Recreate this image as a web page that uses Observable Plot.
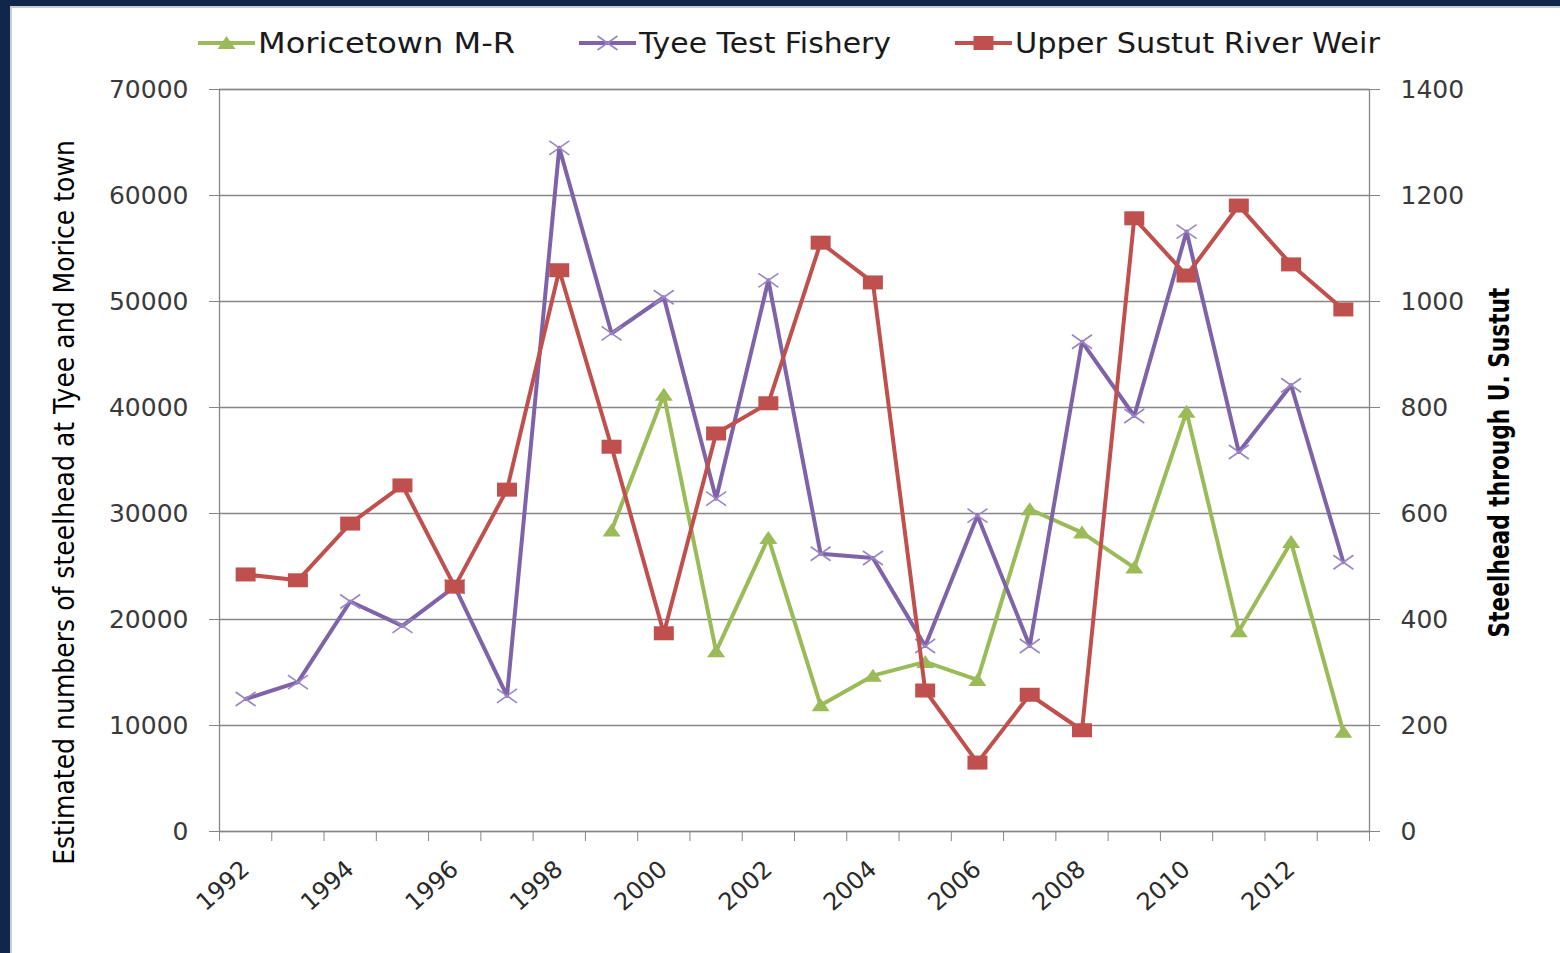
<!DOCTYPE html>
<html>
<head>
<meta charset="utf-8">
<script src="https://cdn.jsdelivr.net/npm/d3@7"></script>
<script src="https://cdn.jsdelivr.net/npm/@observablehq/plot@0.6"></script>
<style>
  html, body { margin: 0; padding: 0; background: #10264a; overflow: hidden; width: 1560px; height: 953px; }
  #box { position: absolute; left: 10px; top: 6px; width: 1548px; height: 945px; background: #fff;
         border-left: 2px solid #c9ccd2; border-top: 2px solid #c9ccd2; font-family: "DejaVu Sans", sans-serif; }
  #legend { height: 70px; display: flex; justify-content: center; align-items: center; gap: 64px; padding-left: 6px; box-sizing: border-box; }
  .item { display: flex; align-items: center; gap: 3px; font-size: 28px; color: #1a1a1a; white-space: nowrap; }
  .item svg { display: block; }
  .lbl { display: inline-block; }
  .lbl > span { display: inline-block; transform-origin: 0 50%; }
  #chart svg { display: block; }
</style>
</head>
<body>
<div id="box">
  <div id="legend"></div>
  <div id="chart"></div>
</div>
<script>
// ---- data ----
const years = [1992, 1993, 1994, 1995, 1996, 1997, 1998, 1999, 2000, 2001, 2002,
               2003, 2004, 2005, 2006, 2007, 2008, 2009, 2010, 2011, 2012, 2013];
const moricetown = [null, null, null, null, null, null, null,
                    28400, 41200, 17000, 27700, 11900, 14700, 16000, 14300,
                    30400, 28200, 24900, 39600, 18900, 27300, 9400];
const tyee = [12500, 14100, 21700, 19400, 23100, 12800, 64500, 47000, 50400, 31400, 52000,
              26200, 25800, 17500, 29800, 17500, 46200, 39200, 56600, 35800, 42100, 25400];
const sustut = [485, 474, 581, 653, 462, 645, 1059, 726, 374, 751, 808,
                1111, 1036, 266, 130, 258, 191, 1157, 1049, 1181, 1070, 985];
const leftTicks = [0, 10000, 20000, 30000, 40000, 50000, 60000, 70000];
const rightTicks = [0, 200, 400, 600, 800, 1000, 1200, 1400];
const yearLabels = [1992, 1994, 1996, 1998, 2000, 2002, 2004, 2006, 2008, 2010, 2012];
const seriesNames = ["Moricetown M-R", "Tyee Test Fishery", "Upper Sustut River Weir"];
const leftTitle = "Estimated numbers of steelhead at Tyee and Morice town";
const rightTitle = "Steelhead through U. Sustut";

// ---- styling ----
const GREEN = "#9bbb59", PURPLE = "#7f63a8", PURPLE_X = "#9a86c4", RED = "#c0504d", GRID = "#868686";
const SCALE = leftTicks[leftTicks.length - 1] / rightTicks[rightTicks.length - 1];
const LEFT_TITLE_LEN = 725, RIGHT_TITLE_LEN = 350;
const LEGEND_TEXT_W = [257, 252, 365];

const triSym = { draw(ctx) { ctx.moveTo(0, -7); ctx.lineTo(9, 6); ctx.lineTo(-9, 6); ctx.closePath(); } };
const sqSym  = { draw(ctx) { ctx.rect(-10, -7, 20, 14); } };
const xSym   = { draw(ctx) { ctx.moveTo(-10, -7); ctx.lineTo(10, 7); ctx.moveTo(-10, 7); ctx.lineTo(10, -7); } };

const mor = years.map((year, i) => ({ year, value: moricetown[i] })).filter(d => d.value != null);
const tye = years.map((year, i) => ({ year, value: tyee[i] }));
const sus = years.map((year, i) => ({ year, value: sustut[i] * SCALE }));
const boundaries = [...years.map(y => y - 0.5), years[years.length - 1] + 0.5];

const plot = Plot.plot({
  width: 1548, height: 875,
  marginLeft: 207, marginRight: 191, marginTop: 11, marginBottom: 122,
  x: { domain: [years[0] - 0.5, years[years.length - 1] + 0.5] },
  y: { domain: [0, leftTicks[leftTicks.length - 1]] },
  style: { fontFamily: "DejaVu Sans", fontSize: "25px", background: "white", overflow: "visible" },
  marks: [
    Plot.gridY(leftTicks, { stroke: GRID, strokeOpacity: 1, strokeWidth: 1.3 }),
    Plot.frame({ stroke: GRID, strokeWidth: 1.3 }),
    Plot.axisY(leftTicks, { anchor: "left", tickSize: 10, tickPadding: 21, tickFormat: d3.format("d"),
                            stroke: GRID, fill: "#3a3a3a", label: null }),
    Plot.axisY(rightTicks.map(v => v * SCALE), { anchor: "right", tickSize: 10, tickPadding: 21,
                            tickFormat: d => String(Math.round(d / SCALE)), stroke: GRID, fill: "#3a3a3a", label: null }),
    Plot.axisX(boundaries, { anchor: "bottom", tickSize: 10, tickFormat: () => "", stroke: GRID, label: null }),
    Plot.axisX(yearLabels, { anchor: "bottom", tickSize: 0, tickPadding: 34, tickRotate: -42, fontSize: 24,
                            tickFormat: d => String(d), fill: "#2a2a2a", label: null }),
    Plot.line(mor, { x: "year", y: "value", stroke: GREEN, strokeWidth: 4 }),
    Plot.dot(mor, { x: "year", y: "value", symbol: triSym, fill: GREEN, stroke: "none" }),
    Plot.line(tye, { x: "year", y: "value", stroke: PURPLE, strokeWidth: 4 }),
    Plot.dot(tye, { x: "year", y: "value", symbol: xSym, fill: "none", stroke: PURPLE_X, strokeWidth: 1.6 }),
    Plot.line(sus, { x: "year", y: "value", stroke: RED, strokeWidth: 4 }),
    Plot.dot(sus, { x: "year", y: "value", symbol: sqSym, fill: RED, stroke: "none" }),
    Plot.text([leftTitle], { text: d => d, frameAnchor: "left", textAnchor: "middle", rotate: -90, dx: -154, dy: 42,
                             fontSize: 28, fill: "#000" }),
    Plot.text([rightTitle], { text: d => d, frameAnchor: "right", textAnchor: "middle", rotate: -90, dx: 131, dy: 2,
                              fontSize: 28, fontWeight: "bold", fill: "#000" })
  ]
});
document.getElementById("chart").appendChild(plot);

function squeeze(content, target) {
  plot.querySelectorAll("text").forEach(t => {
    if (t.textContent !== content) return;
    const L = t.getComputedTextLength();
    if (!L) return;
    const tr = t.getAttribute("transform") || "";
    t.setAttribute("transform", `${tr} scale(${target / L},1)`);
  });
}
squeeze(leftTitle, LEFT_TITLE_LEN);
squeeze(rightTitle, RIGHT_TITLE_LEN);

// ---- legend ----
const legendDefs = [
  { name: seriesNames[0], color: GREEN, marker: `<path d="M28.5,5 L37.5,18 L19.5,18 Z" fill="${GREEN}"/>` },
  { name: seriesNames[1], color: PURPLE, marker: `<path d="M18.5,5 L38.5,19 M18.5,19 L38.5,5" stroke="${PURPLE_X}" stroke-width="1.6" fill="none"/>` },
  { name: seriesNames[2], color: RED, marker: `<rect x="18.5" y="5" width="20" height="14" fill="${RED}"/>` }
];
const legend = document.getElementById("legend");
legendDefs.forEach((d, i) => {
  const item = document.createElement("div");
  item.className = "item";
  item.innerHTML = `<svg width="57" height="24"><line x1="0" x2="57" y1="12" y2="12" stroke="${d.color}" stroke-width="4"/>${d.marker}</svg><span class="lbl" style="width:${LEGEND_TEXT_W[i]}px"><span>${d.name}</span></span>`;
  legend.appendChild(item);
  const inner = item.querySelector(".lbl > span");
  const w = inner.getBoundingClientRect().width;
  if (w) inner.style.transform = `scaleX(${LEGEND_TEXT_W[i] / w})`;
});
</script>
</body>
</html>
